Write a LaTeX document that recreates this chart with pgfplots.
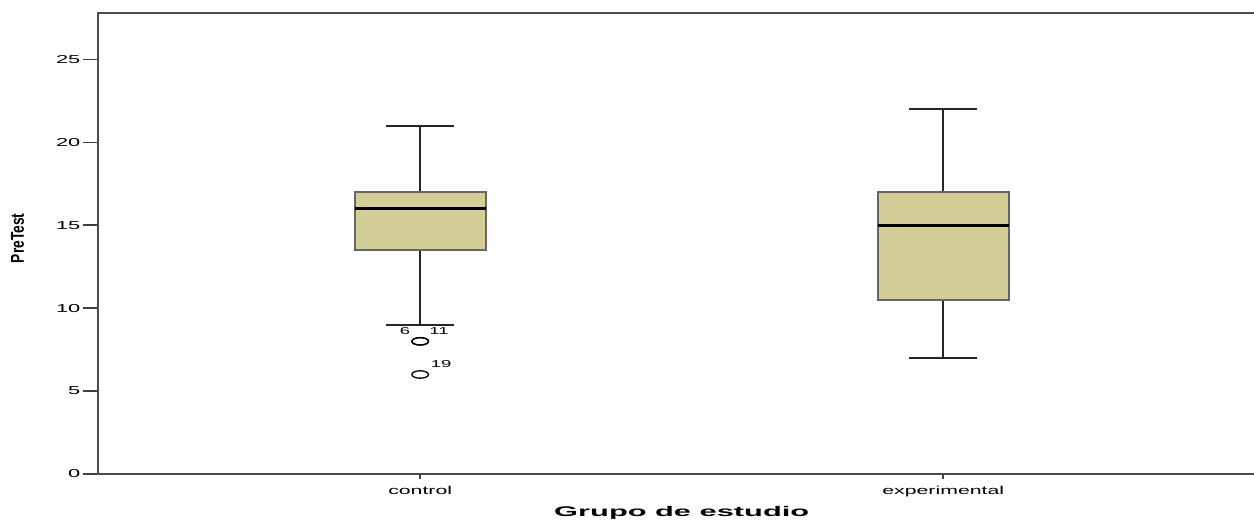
\documentclass[border=0pt]{standalone}
\usepackage{pgfplots}
\pgfplotsset{compat=1.18}
\usepackage{fontspec}
\setmainfont{Liberation Sans}
\usetikzlibrary{calc}
\usepgfplotslibrary{statistics}
\definecolor{boxfill}{RGB}{211,206,152}
\begin{document}
\begin{tikzpicture}
\begin{axis}[
  scale only axis, width=590pt, height=230.5pt,
  xmin=0.384, xmax=2.640, ymin=0, ymax=27.8,
  axis line style={draw=black!70, line width=0.9pt},
  xtick=\empty,
  extra x ticks={1,2}, extra x tick labels={control,experimental},
  extra x tick style={major tick length=2.5pt, tick align=outside,
    xticklabel style={font=\fontsize{5.75pt}{6pt}\selectfont, xscale=1.85, inner sep=0.5pt, yshift=-3pt}},
  ytick={0,5,10,15,20,25},
  xtick pos=left, ytick pos=left,
  tick align=outside, major tick length=7.5pt,
  tick style={draw=black!75, line width=0.8pt},
  /pgf/number format/assume math mode=true,
  yticklabel style={font=\fontsize{5.75pt}{6pt}\selectfont, xscale=1.9, inner sep=0.5pt, anchor=east},
  xlabel={Grupo de estudio},
  xlabel style={font=\bfseries\fontsize{7pt}{8pt}\selectfont, xscale=2.2, inner sep=0pt, at={(axis cs:1.5,0)}, anchor=base, yshift=-21.5pt},
  boxplot/draw direction=y,
  boxplot/every box/.style={draw=black!60, fill=boxfill, line width=1pt},
  boxplot/every median/.style={draw=black, line width=1.3pt},
  boxplot/every whisker/.style={draw=black!85, line width=1pt},
]
\coordinate (bl) at (rel axis cs:0,0);
\addplot[boxplot prepared={lower whisker=9, lower quartile=13.5, median=16,
    upper quartile=17, upper whisker=21, draw position=1,
    box extend=0.25, whisker extend=0.13},
  draw=black!85, fill=boxfill, line width=1pt] coordinates {};
\addplot[boxplot prepared={lower whisker=7, lower quartile=10.5, median=15,
    upper quartile=17, upper whisker=22, draw position=2,
    box extend=0.25, whisker extend=0.13},
  draw=black!85, fill=boxfill, line width=1pt] coordinates {};
\addplot[only marks, mark=o, mark size=1.85pt,
  mark options={xscale=2.25, draw=black, fill=none, line width=0.65pt}]
  coordinates {(1,8) (1,8) (1,6)};
\node[font=\fontsize{5pt}{6pt}\selectfont, xscale=1.85, inner sep=0pt] at (axis cs:0.971,8.6) {6};
\node[font=\fontsize{5pt}{6pt}\selectfont, xscale=1.85, inner sep=0pt] at (axis cs:1.036,8.6) {11};
\node[font=\fontsize{5pt}{6pt}\selectfont, xscale=1.85, inner sep=0pt] at (axis cs:1.040,6.63) {19};
\end{axis}
\node[rotate=90, font=\bfseries\fontsize{9.3pt}{10pt}\selectfont, xscale=0.74, inner sep=0pt] at ($(bl)+(-40.25pt,117.8pt)$) {PreTest};
\pgfresetboundingbox
\path ($(bl)+(-49pt,-24pt)$) rectangle ($(bl)+(578pt,237pt)$);
\end{tikzpicture}
\end{document}
